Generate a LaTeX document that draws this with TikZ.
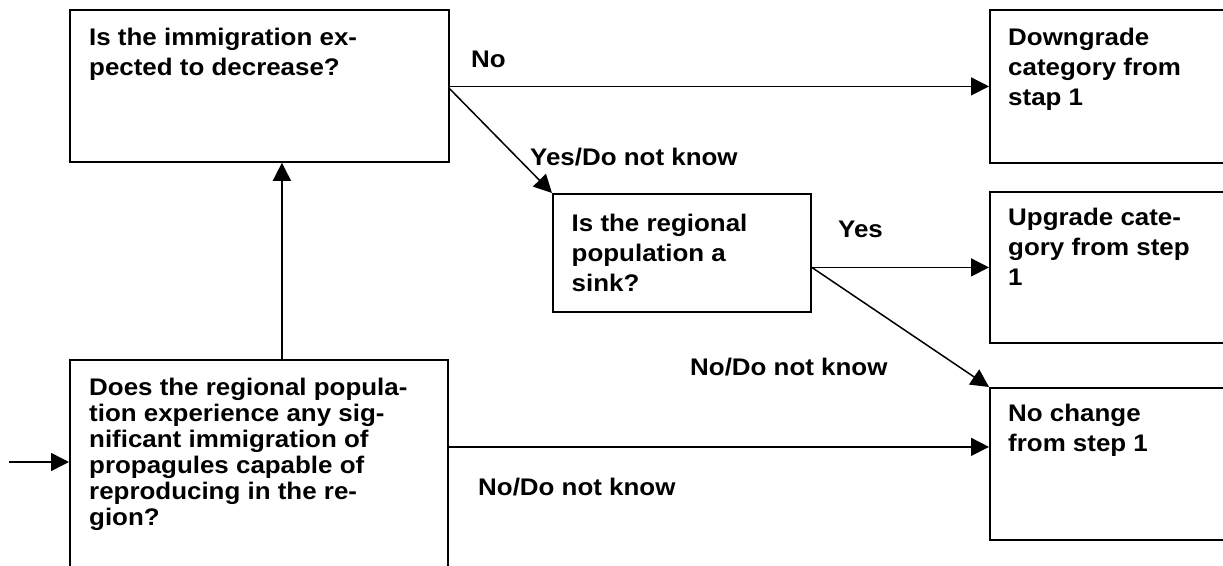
\documentclass[tikz,border=0pt]{standalone}
\usepackage{fontspec}
\setmainfont{Liberation Sans}[FakeStretch=1.08]
\usetikzlibrary{arrows.meta}

\begin{document}
\begin{tikzpicture}
        [x=1pt, y=-1pt, box/.style={draw, line width=1.8pt, inner sep=0, anchor=north west}, txt/.style={inner sep=0, anchor=north west, align=left, font=\bfseries\fontsize{24}{30}\selectfont}, lbl/.style={inner sep=0, anchor=base west, font=\bfseries\fontsize{24}{30}\selectfont}, arr/.style={line width=1.5pt, -{Triangle[length=18pt,width=18pt]}}]

        \useasboundingbox (0,0) rectangle (1223,565);
        \clip (0,0) rectangle (1223,565);

        \node[box, minimum width=379pt, minimum height=152pt] (q1) at (69,9) {};
        \node[box, minimum width=258pt, minimum height=118pt] (q2) at (552,193) {};
        \node[box, minimum width=378pt, minimum height=250pt] (q0) at (69,359) {};
        \node[box, minimum width=260pt, minimum height=153pt] (down) at (989,9) {};
        \node[box, minimum width=260pt, minimum height=151pt] (up) at (989,191) {};
        \node[box, minimum width=260pt, minimum height=152pt] (nochg) at (989,387) {};

        \node[txt] (q1txt) at ([shift={(20,18.5)}]q1.north west) {Is the immigration ex-\\pected to decrease?};
        \node[txt] (q2txt) at ([shift={(19.5,21)}]q2.north west) {Is the regional\\population a\\sink?};
        \node[txt, font=\bfseries\fontsize{24}{26}\selectfont] (q0txt) at ([shift={(20,19)}]q0.north west) {Does the regional popula-\\tion experience any sig-\\nificant immigration of\\propagules capable of\\reproducing in the re-\\gion?};
        \node[txt] (downtxt) at ([shift={(19,18.5)}]down.north west) {Downgrade\\category from\\stap 1};
        \node[txt] (uptxt) at ([shift={(19,16.5)}]up.north west) {Upgrade cate-\\gory from step\\1};
        \node[txt] (nochgtxt) at ([shift={(19,17)}]nochg.north west) {No change\\from step 1};

        \node[lbl] (lno) at (471,67) {No};
        \node[lbl] (lyesdk) at (530,165) {Yes/Do not know};
        \node[lbl] (lyes) at (838,237) {Yes};
        \node[lbl] (lnodk) at (690,375) {No/Do not know};
        \node[lbl] (lnodkb) at (478,495) {No/Do not know};

        \coordinate (entry) at (9,462);
        \coordinate (hit) at ([shift={(0,-17)}]nochg.west);

        \draw[arr] (entry) -- (entry -| q0.west);
        \draw[arr] ([shift={(23,0)}]q0.north) -- ([shift={(23,0)}]q0.north |- q1.south);
        \draw[arr] (q1.east |- down.west) -- (down.west);
        \draw[arr] ([shift={(0,3)}]q1.east) -- (q2.north west);
        \draw[arr] (q2.east |- up.west) -- (up.west);
        \draw[arr] (q2.east |- up.west) -- (nochg.north west);
        \draw[arr] (q0.east |- hit) -- (hit);

      \end{tikzpicture}
\end{document}
